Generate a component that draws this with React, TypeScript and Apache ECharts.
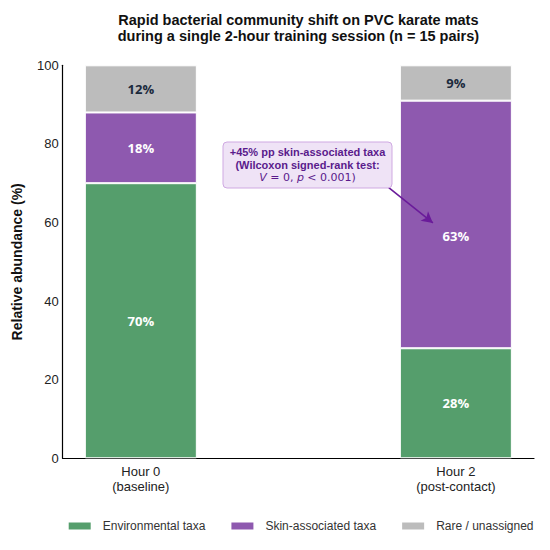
import React, { useEffect, useRef } from "react";
import * as echarts from "echarts";

const categories = ["Hour 0\n(baseline)", "Hour 2\n(post-contact)"];
const categoryPositions = [0, 1];
const environmental = [70, 28];
const skinAssociated = [18, 63];
const rareUnassigned = [12, 9];
const seriesNames = ["Environmental taxa", "Skin-associated taxa", "Rare / unassigned"];
const yTicks = [0, 20, 40, 60, 80, 100];

const GREEN = "#559e6c";
const PURPLE = "#8e59af";
const GRAY = "#bcbcbc";

export default function App() {
  const ref = useRef<HTMLDivElement>(null);
  useEffect(() => {
    document.body.style.margin = "0";
    if (!ref.current) return;
    const chart = echarts.init(ref.current, undefined, { renderer: "svg" });
    const font = "'Liberation Sans', Arial, sans-serif";
    const labelFont = "'Open Sans', 'Noto Sans', sans-serif";

    // visible axes geometry
    const gLeft = 62.7;
    const gRight = 16;
    const gTop = 65.3;
    const gBottom = 91.7;
    const xMin = -0.248;
    const xMax = 1.248;
    const ppu = (550 - gLeft - gRight) / (xMax - xMin);
    const catLeft = gLeft + (-0.5 - xMin) * ppu;
    const catWidth = 2 * ppu;

    const mk = (vals: number[], color: string, labelColor: string, name: string) => ({
      name,
      type: "bar",
      stack: "total",
      xAxisIndex: 0,
      yAxisIndex: 0,
      barWidth: 112,
      itemStyle: { color, borderColor: "#ffffff", borderWidth: 1 },
      label: {
        show: true,
        position: "inside",
        formatter: (p: any) => `${p.value}%`,
        color: labelColor,
        fontFamily: labelFont,
        fontWeight: "bold",
        fontSize: 13,
      },
      data: vals.map((v) => ({ value: v })) as any[],
    });
    const skinSeries = mk(skinAssociated, PURPLE, "#ffffff", seriesNames[1]);
    skinSeries.data[1].label = { offset: [0, 12] };
    chart.setOption({
      animation: false,
      backgroundColor: "#ffffff",
      grid: [
        { left: catLeft, width: catWidth, top: gTop, bottom: gBottom, containLabel: false, outerBoundsMode: "none" },
        { left: gLeft, right: gRight, top: gTop, bottom: gBottom, containLabel: false, outerBoundsMode: "none" },
      ],
      xAxis: [
        { type: "category", gridIndex: 0, data: categories, show: false },
        {
          type: "value",
          gridIndex: 1,
          min: xMin,
          max: xMax,
          axisLine: { show: true, onZero: false, lineStyle: { color: "#000000", width: 1.2 } },
          axisTick: { show: false },
          splitLine: { show: false },
          axisLabel: {
            customValues: categoryPositions,
            formatter: (v: number) => categories[Math.round(v)] ?? "",
            color: "#222222",
            fontFamily: font,
            fontSize: 13,
            lineHeight: 15.5,
            margin: 5,
          },
        },
      ],
      yAxis: [
        { type: "value", gridIndex: 0, min: 0, max: 100, show: false },
        {
          type: "value",
          gridIndex: 1,
          min: 0,
          max: 100,
          interval: 20,
          name: "Relative abundance (%)",
          nameLocation: "middle",
          nameGap: 39,
          nameTextStyle: { fontFamily: font, fontWeight: "bold", fontSize: 14, color: "#111111" },
          axisLine: { show: true, onZero: false, lineStyle: { color: "#000000", width: 1.2 } },
          axisTick: { show: false },
          splitLine: { show: false },
          axisLabel: {
            customValues: yTicks,
            color: "#222222",
            fontFamily: font,
            fontSize: 13,
            margin: 4,
          },
        },
      ],
      legend: {
        left: 66.7,
        top: 519,
        padding: 0,
        itemWidth: 24,
        itemHeight: 9,
        itemGap: 24,
        icon: "rect",
        data: seriesNames,
        textStyle: { fontFamily: font, fontSize: 12, lineHeight: 14, color: "#333333", padding: [0, 0, 0, 6] },
      },
      series: [
        mk(environmental, GREEN, "#ffffff", seriesNames[0]),
        skinSeries,
        mk(rareUnassigned, GRAY, "#1b2a3c", seriesNames[2]),
        {
          type: "scatter",
          xAxisIndex: 1,
          yAxisIndex: 1,
          data: [],
          markLine: {
            silent: true,
            symbol: ["none", "arrow"],
            symbolSize: [9, 11],
            label: { show: false },
            lineStyle: { color: "#6a1b9a", width: 1.6, type: "solid" },
            data: [[{ coord: [0.785, 69.0] }, { coord: [0.927, 59.9] }]],
          },
        },
      ],
      graphic: [
        {
          type: "text",
          x: 298.4,
          y: 12,
          style: {
            text: "Rapid bacterial community shift on PVC karate mats\nduring a single 2-hour training session (n = 15 pairs)",
            textAlign: "center",
            fontFamily: font,
            fontWeight: "bold",
            fontSize: 14.5,
            lineHeight: 16,
            fill: "#111111",
          },
        },
        {
          type: "rect",
          shape: { x: 223, y: 142, width: 169, height: 46, r: 4 },
          style: { fill: "#efe3f6", stroke: "#cfa9e2", lineWidth: 1 },
          z: 10,
        },
        {
          type: "text",
          x: 307.5,
          y: 145,
          z: 11,
          style: {
            text: "{b|+45% pp skin-associated taxa}\n{b|(Wilcoxon signed-rank test:}\n{i|V}{r| = 0, }{i|p}{r| < 0.001)}",
            textAlign: "center",
            fill: "#5a1a8c",
            rich: {
              b: { fontFamily: font, fontWeight: "bold", fontSize: 11, lineHeight: 13, fill: "#5a1a8c" },
              i: { fontFamily: "'DejaVu Sans', sans-serif", fontStyle: "italic", fontSize: 11, lineHeight: 13, fill: "#5a1a8c" },
              r: { fontFamily: "'DejaVu Sans', sans-serif", fontSize: 11, lineHeight: 13, fill: "#5a1a8c" },
            },
          },
        },
      ],
    });
    return () => chart.dispose();
  }, []);
  return <div ref={ref} style={{ width: 550, height: 550 }} />;
}
